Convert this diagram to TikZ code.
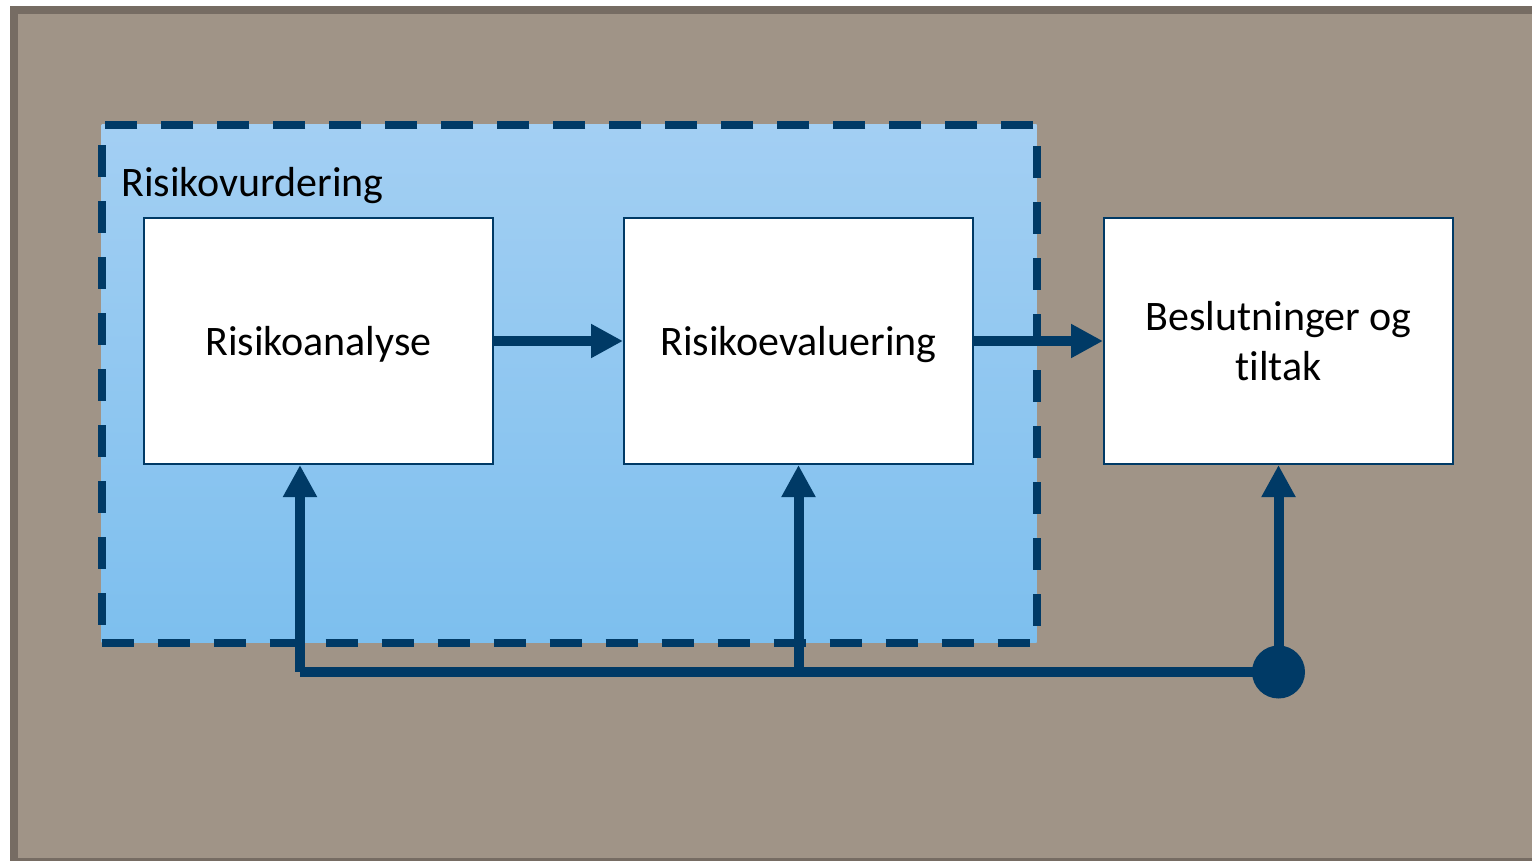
\documentclass[tikz,border=0pt]{standalone}
\usepackage{fontspec}
\setmainfont{Carlito}[Ligatures=NoCommon]
\usetikzlibrary{arrows.meta,positioning,calc}
\definecolor{rNavy}{HTML}{003A66}
\definecolor{rTaupe}{HTML}{A09487}
\definecolor{rTaupeDark}{HTML}{766C63}
\definecolor{rSkyTop}{HTML}{A3CFF3}
\definecolor{rSkyBot}{HTML}{7DBFEE}

\begin{document}
\begin{tikzpicture}[x=0.5pt,y=-0.5pt,
    stage/.style={draw=rNavy, line width=1pt, fill=white, minimum width=174.5pt,
      minimum height=123pt, inner sep=0pt, align=center, text depth=0pt,
      font=\fontsize{21}{25}\selectfont},
    flow/.style={rNavy, line width=5pt, -{Triangle[length=16pt,width=16pt]}},
    feed/.style={rNavy, line width=5pt}]
  \clip (0,0) rectangle (1532,861);
  % backdrop
  \fill[rTaupe] (14,10) rectangle (1560,862);
  \draw[rTaupeDark, line width=4pt] (14,10) rectangle (1560,862);
  % assessment area
  \node[top color=rSkyTop, bottom color=rSkyBot, draw=rNavy, line width=4pt,
    dash pattern=on 16pt off 12pt, minimum width=467.6pt, minimum height=258.75pt,
    inner sep=0pt] (zone) at (569.1,383.75) {};
  \node[anchor=base west, inner sep=0pt, font=\fontsize{21}{25}\selectfont]
    (zonelabel) at (121,197) {Risikovurdering};
  % stages
  \node[stage] (analyse) at (318.5,341) {Risikoanalyse};
  \node[stage, right=64.5pt of analyse] (evaluering) {Risikoevaluering};
  \node[stage, right=64.5pt of evaluering] (tiltak) {Beslutninger og\\tiltak};
  \draw[flow] (analyse) -- (evaluering);
  \draw[flow] (evaluering) -- (tiltak);
  % feedback
  \coordinate (turn) at (300,672);
  \node[circle, fill=rNavy, minimum size=26.5pt, inner sep=0pt] (knot)
    at (tiltak.south |- turn) {};
  \draw[feed] (knot.center) -- (turn);
  \draw[flow] (turn) -- (turn |- analyse.south);
  \draw[flow] (evaluering.south |- turn) -- (evaluering.south);
  \draw[flow] (knot.center) -- (tiltak.south);
\end{tikzpicture}
\end{document}
